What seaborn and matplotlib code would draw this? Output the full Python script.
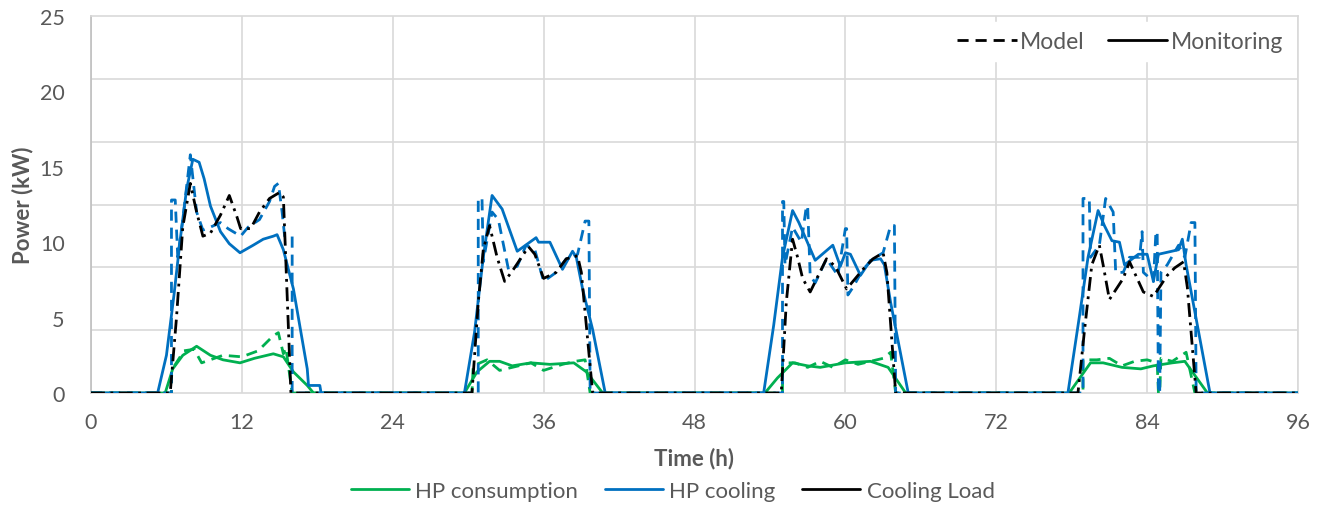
import numpy as np
import pandas as pd
import matplotlib
matplotlib.use("Agg")
import matplotlib.pyplot as plt
from matplotlib.lines import Line2D
import seaborn as sns

# ---------------- data (hours, kW) ----------------
cool_mon_t = [0, 5.3, 6.0, 6.6, 7.1, 7.6, 8.1, 8.6, 9.0, 9.5, 10.3, 11.0, 11.85, 12.9, 13.7, 14.5, 14.8, 15.3, 16.1, 17.2, 17.3, 18.2, 18.3,
              29.7, 30.5, 31.2, 31.9, 32.7, 33.9, 34.9, 35.4, 35.6, 36.5, 37.5, 38.3, 38.6, 39.1, 39.9, 40.9,
              53.5, 54.3, 55.0, 55.8, 56.3, 57.6, 59.0, 59.6, 60.0, 60.4, 61.2, 62.0, 62.8, 63.1, 63.6, 65.0,
              77.7, 78.6, 79.3, 80.1, 80.6, 81.2, 81.8, 82.2, 83.3, 84.0, 84.5, 84.9, 86.5, 86.8, 87.1, 89.0, 96]
cool_mon_v = [0, 0, 2.5, 6.5, 10.2, 13.5, 15.5, 15.3, 14.2, 12.4, 10.7, 9.9, 9.3, 9.8, 10.2, 10.4, 10.5, 9.5, 6.9, 1.6, 0.5, 0.5, 0,
              0, 4.0, 9.0, 13.1, 12.2, 9.4, 10.0, 10.3, 10.0, 10.0, 8.2, 9.4, 9.0, 6.9, 4.2, 0,
              0, 4.5, 9.0, 12.1, 11.3, 8.8, 9.8, 8.4, 9.3, 9.2, 7.8, 8.8, 8.9, 8.5, 6.0, 0,
              0, 5.0, 9.0, 12.1, 11.1, 10.1, 10.0, 8.5, 9.2, 9.2, 7.4, 9.2, 9.5, 10.2, 8.5, 0, 0]

cool_mod_t = [0, 6.4, 6.4, 6.7, 6.9, 7.3, 7.9, 8.4, 8.9, 9.5, 10.3, 10.9, 11.9, 12.5, 13.4, 14.2, 14.6, 14.9, 15.2, 15.4, 16.0, 16.0,
              30.8, 30.8, 31.1, 31.2, 31.9, 32.4, 33.2, 33.9, 34.6, 35.3, 36.0, 37.0, 37.8, 38.3, 38.7, 39.3, 39.6, 39.7,
              55.0, 55.0, 55.1, 55.2, 55.8, 56.5, 56.9, 57.0, 57.2, 57.6, 58.5, 59.4, 60.0, 60.1, 60.2, 60.6, 61.4, 62.2, 63.0, 63.6, 63.9, 64.0,
              78.9, 78.9, 79.4, 79.5, 80.2, 80.7, 81.3, 81.5, 82.1, 82.6, 83.4, 83.6, 83.7, 84.5, 84.7, 84.8, 84.9, 85.0, 85.1, 85.6, 86.5, 87.0, 87.5, 87.8, 87.9, 96]
cool_mod_v = [0, 0, 12.8, 12.8, 9.0, 11.5, 15.8, 12.0, 10.8, 11.0, 11.3, 10.9, 10.4, 11.0, 11.5, 12.7, 13.7, 13.9, 12.0, 10.4, 10.4, 0,
              0, 12.9, 12.9, 8.7, 12.0, 11.5, 8.2, 8.4, 9.8, 9.5, 7.4, 8.0, 8.9, 9.0, 9.2, 11.4, 11.4, 0,
              0, 12.7, 12.7, 8.5, 11.0, 10.0, 12.4, 12.4, 7.8, 7.3, 8.9, 7.8, 10.9, 10.9, 6.5, 7.0, 8.2, 8.9, 9.3, 11.1, 11.1, 0,
              0, 12.9, 12.9, 9.0, 9.8, 12.9, 12.0, 8.0, 8.0, 9.0, 9.0, 10.7, 8.0, 7.4, 10.7, 10.7, 0, 0, 8.0, 8.5, 9.8, 9.0, 11.3, 11.3, 0, 0]

load_t = [0, 6.3, 6.8, 7.3, 7.9, 8.4, 8.9, 9.5, 10.3, 11.0, 11.6, 11.9, 12.7, 13.4, 14.2, 15.0, 15.3, 15.9,
          30.3, 30.8, 31.2, 31.7, 32.3, 32.9, 33.6, 34.8, 35.3, 36.0, 37.0, 37.8, 38.7, 39.0, 39.9,
          54.9, 55.3, 55.8, 56.2, 56.6, 57.2, 58.5, 59.2, 60.1, 61.4, 62.2, 63.0, 63.3, 64.0,
          78.5, 79.0, 79.6, 80.2, 80.5, 81.0, 82.1, 82.6, 83.7, 84.5, 85.6, 86.2, 86.9, 87.2, 87.9, 96]
load_v = [0, 0, 5.0, 11.0, 13.9, 12.0, 10.4, 10.6, 11.8, 13.1, 11.7, 10.9, 10.9, 12.0, 12.9, 13.3, 13.0, 0,
          0, 6.0, 9.5, 11.1, 9.0, 7.4, 8.2, 9.7, 9.2, 7.6, 8.0, 8.9, 9.1, 8.0, 0,
          0, 6.0, 10.2, 9.0, 7.6, 6.7, 8.9, 8.4, 6.9, 8.2, 8.9, 9.3, 8.0, 0,
          0, 4.0, 8.5, 9.8, 8.5, 6.2, 7.6, 8.7, 6.7, 6.4, 7.8, 8.3, 8.7, 7.0, 0, 0]

cons_mon_t = [0, 5.9, 6.5, 7.3, 8.4, 9.5, 10.5, 11.85, 13.0, 14.5, 15.3, 16.1, 17.2, 17.7,
              29.7, 30.7, 31.7, 32.5, 33.5, 35.0, 36.5, 38.4, 39.4, 40.7,
              53.6, 54.6, 55.8, 57.0, 58.0, 60.0, 62.0, 63.4, 64.8,
              77.8, 79.5, 80.5, 82.0, 83.5, 84.5, 86.0, 87.0, 88.8, 96]
cons_mon_v = [0, 0, 1.6, 2.5, 3.1, 2.5, 2.2, 2.0, 2.3, 2.6, 2.4, 1.4, 0.5, 0,
              0, 1.4, 2.1, 2.1, 1.8, 2.0, 1.9, 2.0, 1.4, 0,
              0, 1.0, 2.0, 1.8, 1.7, 2.0, 2.1, 1.7, 0,
              0, 2.0, 2.0, 1.7, 1.6, 1.8, 2.0, 2.1, 0, 0]

cons_mod_t = [0, 6.4, 6.4, 7.4, 8.2, 8.8, 10.5, 12.0, 13.3, 14.5, 14.9, 15.3, 15.5, 16.0,
              30.3, 30.4, 31.5, 32.5, 33.5, 35.0, 36.0, 37.5, 38.5, 39.3, 39.7,
              55.0, 55.0, 56.0, 57.0, 58.0, 59.0, 60.0, 61.0, 62.0, 63.0, 63.6, 64.0,
              78.9, 78.9, 80.0, 81.0, 82.0, 83.0, 84.0, 84.8, 84.9, 85.0, 85.1, 86.0, 87.1, 87.8, 96]
cons_mod_v = [0, 0, 1.5, 2.8, 2.9, 2.0, 2.5, 2.4, 2.8, 3.8, 4.0, 2.6, 3.0, 0,
              0, 1.8, 2.2, 1.5, 1.7, 2.0, 1.5, 1.9, 2.1, 2.2, 0,
              0, 2.0, 2.0, 1.7, 2.1, 1.7, 2.2, 1.9, 2.1, 2.3, 2.7, 0,
              0, 2.2, 2.2, 2.3, 1.8, 2.1, 2.2, 2.0, 0, 0, 2.3, 2.1, 2.7, 0, 0]

x_ticks = [0, 12, 24, 36, 48, 60, 72, 84, 96]
y_ticks = [0, 5, 10, 15, 20, 25]

# ---------------- styling ----------------
sns.set_theme(style="white")
plt.rcParams['font.family'] = ['Lato', 'DejaVu Sans']

GREEN = "#00B050"
BLUE = "#0070C0"
BLACK = "#000000"
TXT = "#595959"
GRID = "#D9D9D9"

fig = plt.figure(figsize=(13.27, 5.06), dpi=100)
ax = fig.add_axes([91/1327, 1 - 394/506, (1298 - 91)/1327, (394 - 17)/506])

def draw(t, v, color, ls, lw, z):
    df = pd.DataFrame({"t": t, "v": v})
    sns.lineplot(data=df, x="t", y="v", ax=ax, color=color, sort=False, estimator=None,
                 linewidth=lw, linestyle=ls, zorder=z)

draw(cons_mon_t, cons_mon_v, GREEN, "-", 2.0, 3)
draw(cons_mod_t, cons_mod_v, GREEN, (0, (4, 2.5)), 2.0, 4)
draw(cool_mon_t, cool_mon_v, BLUE, "-", 2.0, 5)
draw(cool_mod_t, cool_mod_v, BLUE, (0, (4, 2.5)), 2.0, 6)
draw(load_t, load_v, BLACK, (0, (5, 2, 1, 2)), 2.0, 7)

ax.set_xlim(0, 96)
ax.set_ylim(0, 25)
ax.set_xticks(x_ticks)
ax.set_yticks(y_ticks)
ax.set_yticks(np.linspace(0, 25, 7), minor=True)
ax.grid(False)
ax.grid(True, axis="x", which="major", color=GRID, linewidth=1.2)
ax.grid(True, axis="y", which="minor", color=GRID, linewidth=1.2)
ax.tick_params(axis="both", which="both", length=0, labelsize=15.5, labelcolor=TXT)
ax.tick_params(axis="x", pad=14)
ax.tick_params(axis="y", pad=19)
for s in ["top", "right", "bottom"]:
    ax.spines[s].set_color(GRID)
    ax.spines[s].set_linewidth(1.2)
ax.spines["left"].set_color("#BFBFBF")
ax.spines["left"].set_linewidth(1.2)

ax.set_xlabel("Time (h)", fontsize=16, fontweight="bold", color=TXT, labelpad=10)
ax.set_ylabel("Power (kW)", fontsize=16, fontweight="bold", color=TXT)
ax.yaxis.set_label_coords(-0.048, 0.5)

# top legend: model / monitoring
h1 = [Line2D([], [], color=BLACK, lw=2, ls=(0, (4, 2.5))),
      Line2D([], [], color=BLACK, lw=2, ls="-")]
leg1 = ax.legend(h1, ["Model", "Monitoring"], loc="upper right", bbox_to_anchor=(1.0, 1.0),
                 ncol=2, frameon=True, framealpha=1, edgecolor="white", facecolor="white",
                 fontsize=16.5, handlelength=2.6, handletextpad=0.15, columnspacing=1.0,
                 borderaxespad=0.25, fancybox=False)
for tx in leg1.get_texts():
    tx.set_color(TXT)
leg1.set_zorder(10)

# bottom legend: series colours
h2 = [Line2D([], [], color=GREEN, lw=2, ls="-"), Line2D([], [], color=BLUE, lw=2, ls="-"),
      Line2D([], [], color=BLACK, lw=2, ls="-")]
leg2 = fig.legend(h2, ["HP consumption", "HP cooling", "Cooling Load"], loc="center",
                  bbox_to_anchor=(0.507, 1 - 492/506), ncol=3, frameon=False, fontsize=16,
                  handlelength=2.6, handletextpad=0.3, columnspacing=1.2)
for tx in leg2.get_texts():
    tx.set_color(TXT)

fig.savefig("out.png", dpi=100, facecolor="white")
